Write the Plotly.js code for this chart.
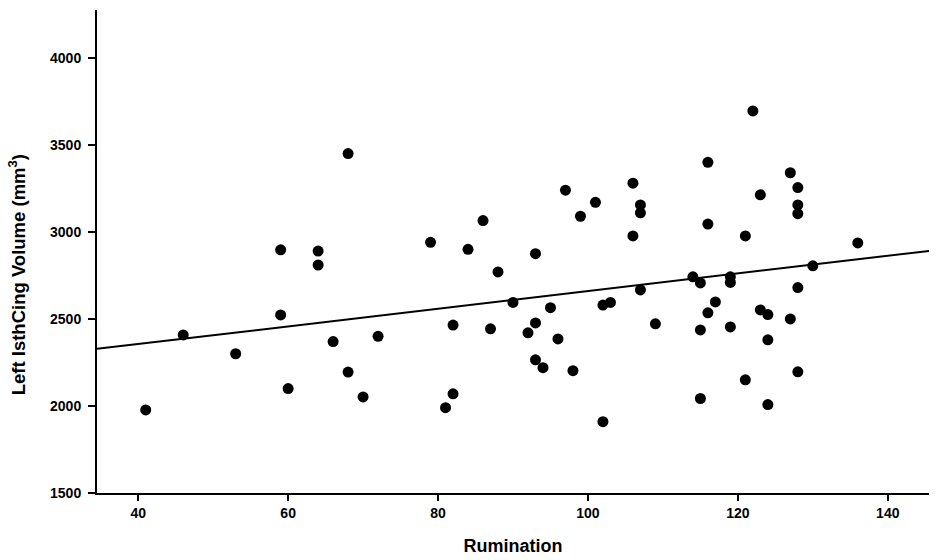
<!DOCTYPE html>
<html>
<head>
<meta charset="utf-8">
<script src="https://cdn.plot.ly/plotly-3.0.1.min.js"></script>
<style>
  html, body { margin: 0; padding: 0; background: #fff; }
  #chart { width: 937px; height: 560px; }
</style>
</head>
<body>
<div id="chart"></div>
<script>
// Rumination score per subject
const rumination = [
  41, 46, 53, 59, 59, 60, 64, 64, 66, 68, 68, 70, 72,
  79, 81, 82, 82, 84, 86, 87, 88, 90, 92, 93, 93, 93, 94, 95, 96, 97, 98, 99,
  101, 102, 102, 103, 106, 106, 107, 107, 107, 109,
  114, 115, 115, 115, 116, 116, 116, 117, 119, 119, 119,
  121, 121, 122, 123, 123, 124, 124, 124, 127, 127,
  128, 128, 128, 128, 128, 130, 136
];

// Left isthmus cingulate volume (mm3)
const volume = [
  1977, 2408, 2300, 2897, 2523, 2100, 2890, 2810, 2370, 3450, 2195, 2052, 2400,
  2940, 1990, 2070, 2465, 2900, 3065, 2443, 2770, 2595, 2420, 2875, 2477, 2265, 2220, 2565, 2385, 3240, 2203, 3090,
  3170, 1910, 2580, 2595, 3280, 2977, 3155, 3110, 2667, 2472,
  2742, 2707, 2437, 2043, 3400, 3045, 2535, 2598, 2742, 2710, 2454,
  2977, 2150, 3695, 3213, 2552, 2525, 2380, 2008, 3340, 2500,
  3255, 3155, 3105, 2680, 2196, 2805, 2937
];

// fitted regression line, end points across the x range
const fitX = [34.5, 145.5];
const fitY = [2328, 2891];

const xTicks = [40, 60, 80, 100, 120, 140];
const yTicks = [1500, 2000, 2500, 3000, 3500, 4000];

const fontFam = 'Liberation Sans, Arial, sans-serif';

const data = [
  {
    x: fitX,
    y: fitY,
    type: 'scatter',
    mode: 'lines',
    line: { color: '#000', width: 2 },
    hoverinfo: 'skip'
  },
  {
    x: rumination,
    y: volume,
    type: 'scatter',
    mode: 'markers',
    marker: { color: '#000', size: 11, line: { width: 0 } }
  }
];

const layout = {
  width: 937,
  height: 560,
  showlegend: false,
  paper_bgcolor: '#fff',
  plot_bgcolor: '#fff',
  margin: { l: 97, r: 8, t: 10, b: 67 },
  font: { family: fontFam, color: '#000' },
  xaxis: {
    range: [34.5, 145.5],
    tickvals: xTicks,
    ticktext: xTicks.map(String),
    ticks: 'outside',
    ticklen: 6,
    tickwidth: 2,
    tickcolor: '#000',
    showline: true,
    linecolor: '#000',
    linewidth: 2,
    showgrid: false,
    zeroline: false,
    tickfont: { size: 14, family: fontFam, weight: 'bold' },
    title: {
      text: '<b>Rumination</b>',
      font: { size: 18 },
      standoff: 20
    }
  },
  yaxis: {
    range: [1500, 4275],
    tickvals: yTicks,
    ticktext: yTicks.map(String),
    ticks: 'outside',
    ticklen: 7,
    tickwidth: 2,
    tickcolor: '#000',
    showline: true,
    linecolor: '#000',
    linewidth: 2,
    showgrid: false,
    zeroline: false,
    ticklabelstandoff: 4,
    tickfont: { size: 14, family: fontFam, weight: 'bold' }
  },
  // y title placed as an annotation: it sits lower than the plot centre in the original
  annotations: [{
    xref: 'paper',
    yref: 'paper',
    x: -0.096,
    y: 0.451,
    xanchor: 'center',
    yanchor: 'middle',
    textangle: -90,
    showarrow: false,
    text: '<b>Left IsthCing Volume (mm<sup>3</sup>)</b>',
    font: { size: 18.5, family: fontFam, color: '#000' }
  }]
};

Plotly.newPlot('chart', data, layout, { displayModeBar: false, staticPlot: true });
</script>
</body>
</html>
